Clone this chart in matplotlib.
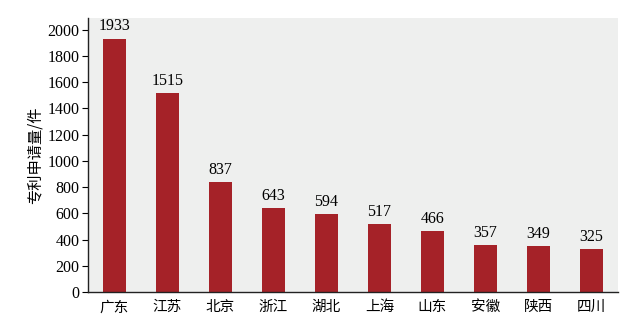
import matplotlib
matplotlib.use("Agg")
import matplotlib.pyplot as plt

provinces = ["广东", "江苏", "北京", "浙江", "湖北", "上海", "山东", "安徽", "陕西", "四川"]
counts = [1933, 1515, 837, 643, 594, 517, 466, 357, 349, 325]
yticks = [0, 200, 400, 600, 800, 1000, 1200, 1400, 1600, 1800, 2000]

fig = plt.figure(figsize=(6.39, 3.32), dpi=100)
ax = fig.add_axes([0.1377, 0.1205, 0.967 - 0.1377, 0.9458 - 0.1205])
ax.set_facecolor("#EEEFEE")
x = list(range(len(provinces)))
bars = ax.bar(x, counts, width=0.42, color="#A52228", zorder=2)
for xi, v in zip(x, counts):
    ax.annotate(str(v), (xi, v), xytext=(0, 3), textcoords="offset points",
                ha="center", va="bottom", fontsize=11.5, family="Liberation Serif")
ax.set_xlim(-0.5, 9.5)
ax.set_ylim(0, 2090)
ax.set_yticks(yticks)
ax.set_yticklabels([str(t) for t in yticks], family="Liberation Serif", fontsize=11.5)
ax.set_xticks(x)
ax.set_xticklabels(provinces, family=["Noto Sans CJK SC", "DejaVu Sans"], fontsize=10.5)
ax.tick_params(axis="x", length=0, pad=6)
ax.tick_params(axis="y", length=4, width=0.8, direction="out", pad=2)
for s in ["top", "right"]:
    ax.spines[s].set_visible(False)
for s in ["left", "bottom"]:
    ax.spines[s].set_linewidth(1.0)
    ax.spines[s].set_color("#222222")
ax.set_ylabel("专利申请量/件", family=["Noto Sans CJK SC", "DejaVu Sans"], fontsize=11, labelpad=3)
fig.savefig("out.png", dpi=100)
